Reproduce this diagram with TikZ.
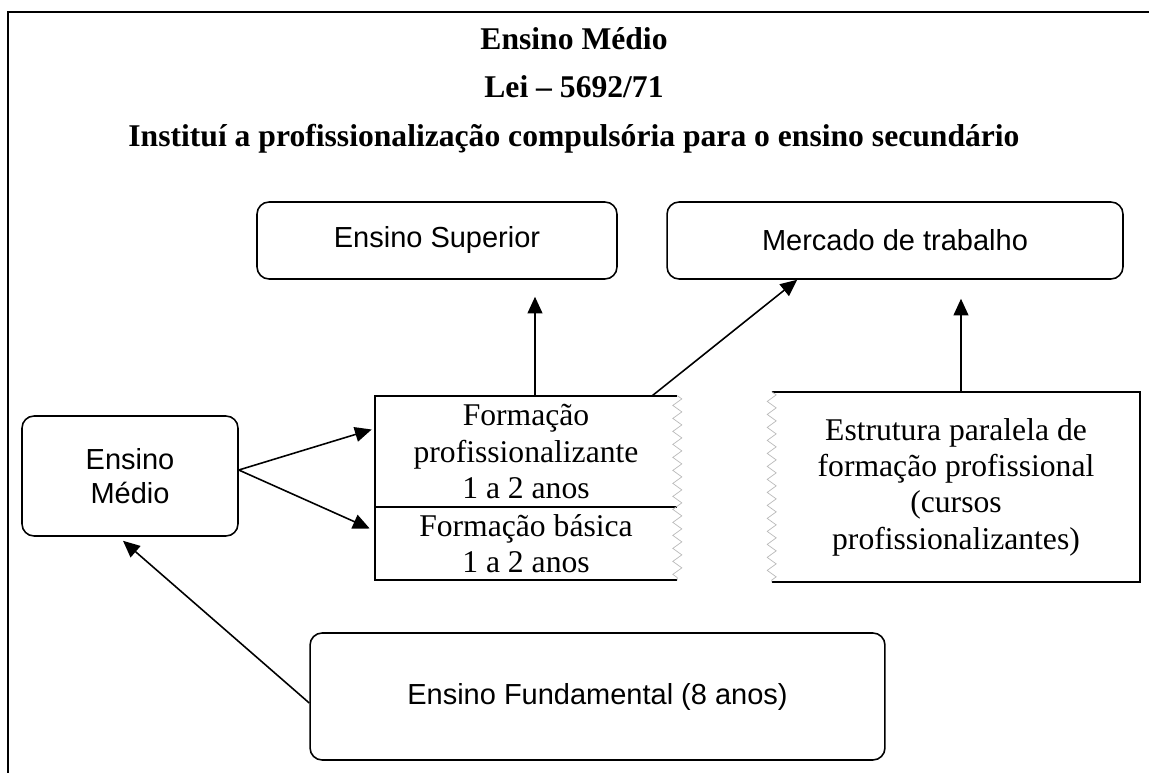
\documentclass[tikz,border=0pt]{standalone}
\usepackage{fontspec}
\setmainfont{Liberation Serif}
\newfontfamily\arialfont{Liberation Sans}
\usetikzlibrary{arrows.meta}
\usetikzlibrary{decorations.pathmorphing}
\usetikzlibrary{positioning}

\tikzset{
  roundbox/.style={draw,rounded corners=0.24cm,line width=0.9pt,align=center,inner sep=0pt,
    font=\arialfont\fontsize{16.5}{19}\selectfont},
  cell/.style={align=center,inner sep=0pt,font=\fontsize{18}{20.7}\selectfont},
  boxline/.style={line width=1.1pt},
  zigline/.style={draw=gray!55,line width=0.4pt,decorate,
    decoration={zigzag,segment length=0.26cm,amplitude=0.09cm}},
  arr/.style={draw,line width=0.9pt,-{Triangle[length=9.5pt,width=8.5pt]}},
  headline/.style={anchor=base,font=\bfseries\fontsize{18}{20.7}\selectfont}
}

\begin{document}
\begin{tikzpicture}[x=0.02cm,y=-0.02cm]
  \useasboundingbox (0,0) rectangle (1149,773);
  \draw[line width=1.1pt] (8,773) -- (8,12) -- (1149,12);

  \node[headline] (title) at (574,50) {Ensino Médio};
  \node[headline] (lei) at (574,98) {Lei – 5692/71};
  \node[headline] (instit) at (574,147) {Instituí a profissionalização compulsória para o ensino secundário};

  \node[roundbox,minimum width=7.2cm,minimum height=1.54cm] (sup) at (437,240.5) {Ensino Superior};
  \node[roundbox,minimum width=9.12cm,minimum height=1.54cm] (merc) at (895,240.5) {Mercado de trabalho};
  \node[roundbox,minimum width=4.32cm,minimum height=2.4cm] (med) at (130,476) {Ensino\\Médio};
  \node[roundbox,minimum width=11.5cm,minimum height=2.54cm] (fund) at (597.5,696.5) {Ensino Fundamental (8 anos)};

  \node[cell,minimum width=6.04cm,minimum height=2.22cm] (formA) at (526,451.5) {Formação\\profissionalizante\\1 a 2 anos};
  \node[cell,minimum width=6.04cm,minimum height=1.46cm] (formB) at (526,543.5) {Formação básica\\1 a 2 anos};
  \draw[boxline] (formA.north east) -- (formA.north west) -- (formB.south west) -- (formB.south east);
  \draw[boxline] (formA.south west) -- (formA.south east);
  \path[zigline] (formA.north east) -- (formB.south east);

  \node[cell,minimum width=7.36cm,minimum height=3.8cm] (estr) at (956,487) {Estrutura paralela de\\formação profissional\\(cursos\\profissionalizantes)};
  \draw[boxline] (estr.north west) -- (estr.north east) -- (estr.south east) -- (estr.south west);
  \path[zigline] (estr.north west) -- (estr.south west);

  \path
    ([xshift=0.18cm]formA.north) edge[arr] ([xshift=1.96cm,yshift=-0.34cm]sup.south)
    ([xshift=-0.5cm]formA.north east) edge[arr] ([xshift=2.62cm]merc.south west)
    ([xshift=0.1cm]estr.north) edge[arr] ([xshift=1.32cm,yshift=-0.38cm]merc.south);

  \path
    ([yshift=0.12cm]med.east) edge[arr] ([xshift=-0.06cm,yshift=0.44cm]formA.west)
    ([yshift=0.12cm]med.east) edge[arr] ([xshift=-0.1cm,yshift=0.3cm]formB.west)
    ([yshift=-0.13cm]fund.west) edge[arr] ([xshift=-0.14cm,yshift=-0.08cm]med.south);
\end{tikzpicture}
\end{document}
